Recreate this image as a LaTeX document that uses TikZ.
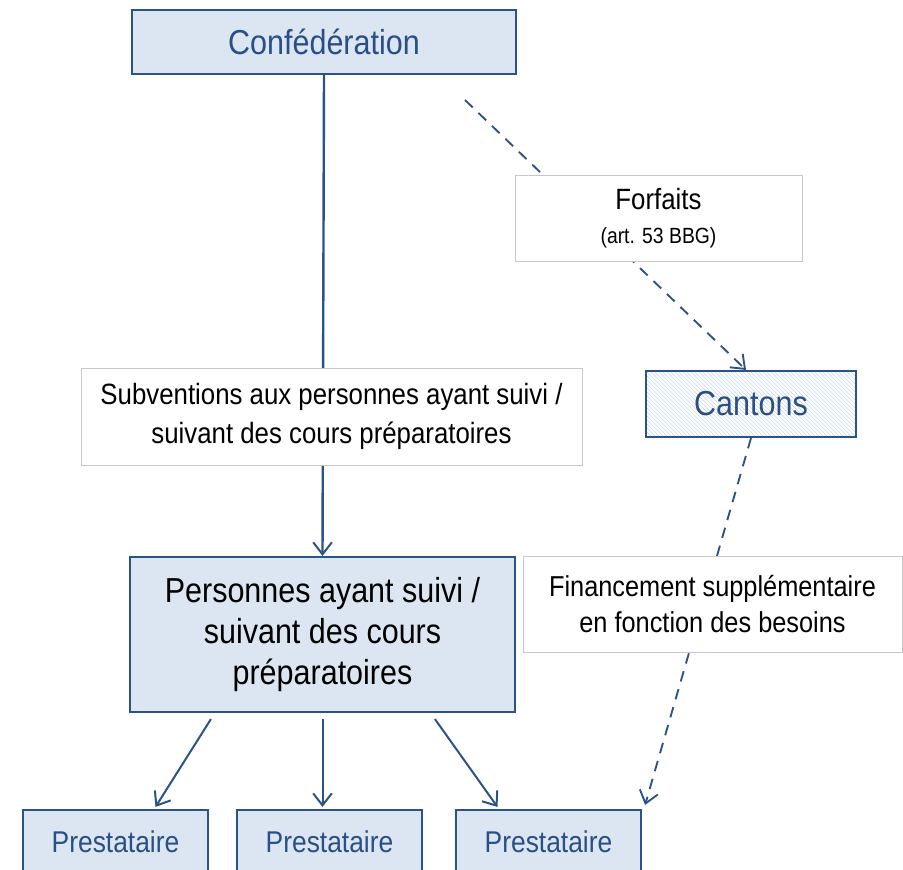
\documentclass[tikz,border=0pt]{standalone}
\usepackage{fontspec}
\setmainfont{Liberation Sans}[FakeStretch=0.88]
\usetikzlibrary{arrows.meta,patterns,backgrounds,calc}
\definecolor{boxfill}{HTML}{DCE6F2}
\definecolor{boxline}{HTML}{2B5386}
\definecolor{boxtext}{HTML}{2A4E86}
\definecolor{lblline}{HTML}{C8C8C8}
\definecolor{hatch}{HTML}{C5D6EC}
\tikzset{
	bluebox/.style 2 args={draw=boxline,line width=1.6pt,fill=boxfill,text=boxtext,minimum width=#1,minimum height=#2,inner sep=0pt,align=center},
	lbl/.style 2 args={draw=lblline,line width=0.6pt,fill=white,minimum width=#1,minimum height=#2,inner sep=0pt,align=center},
	link/.style={draw=boxline,line width=1.8pt,-{Straight Barb[length=9pt,width=14pt,line width=1.5pt]}},
	dlink/.style={draw=boxline,line width=1.4pt,dash pattern=on 8pt off 6pt,-{Straight Barb[length=9pt,width=14pt,line width=1.4pt]}}
}

\begin{document}
\begin{tikzpicture}[x=0.75pt,y=-0.75pt]
	\useasboundingbox (0,0) rectangle (903,869);

	\node [bluebox={288pt}{48pt},font=\fontsize{26}{30}\selectfont] (confed) at (324,42) {Confédération};
	\node [bluebox={157.5pt}{49.5pt},fill=white,preaction={fill=white},pattern=north west lines,pattern color=hatch,font=\fontsize{26}{30}\selectfont] (cantons) at (751,404) {Cantons};
	\node [bluebox={288.75pt}{116.25pt},text=black,font=\fontsize{26}{31}\selectfont] (pers) at (322.5,634.5) {Personnes ayant suivi /\\suivant des cours\\préparatoires};

	\node [bluebox={138.75pt}{48pt},font=\fontsize{22.5}{26}\selectfont] (prest1) at (115.5,842) {Prestataire};
	\node [bluebox={138.75pt}{48pt},font=\fontsize{22.5}{26}\selectfont] (prest2) at (329.5,842) {Prestataire};
	\node [bluebox={138.75pt}{48pt},font=\fontsize{22.5}{26}\selectfont] (prest3) at (548.5,842) {Prestataire};

	\node [lbl={375.75pt}{72.75pt},font=\fontsize{22}{29}\selectfont] (subv) at (331.5,416.5) {Subventions aux personnes ayant suivi /\\suivant des cours préparatoires};
	\node [lbl={215.25pt}{64.5pt},font=\fontsize{22}{26}\selectfont] (forf) at (658.5,218) {Forfaits\\{\fontsize{16.5}{20}\selectfont (art. 53 BBG)}};
	\node [lbl={284.25pt}{72pt},font=\fontsize{21.6}{27}\selectfont] (fin) at (712.5,604) {Financement supplémentaire\\en fonction des besoins};

	\coordinate (fstart) at (465,100);

	\begin{pgfonlayer}{background}
		\draw [link] (confed.south) -- (pers.north);
		\draw [dlink] (fstart) -- ($(cantons.north)+(-5,0)$);
		\draw [dlink] (cantons.south) -- ($(prest3.north east)+(3,-4)$);
	\end{pgfonlayer}

	\draw [link,line width=1.5pt] ($(pers.south west)+(82,6)$) -- ($(prest1.north)+(40,-2)$);
	\draw [link,line width=1.5pt] ($(pers.south)+(0,6)$) -- ($(pers.south |- prest2.north)+(0,-2)$);
	\draw [link,line width=1.5pt] ($(pers.south west)+(306,6)$) -- ($(prest3.north)+(-51,-2)$);
\end{tikzpicture}
\end{document}
